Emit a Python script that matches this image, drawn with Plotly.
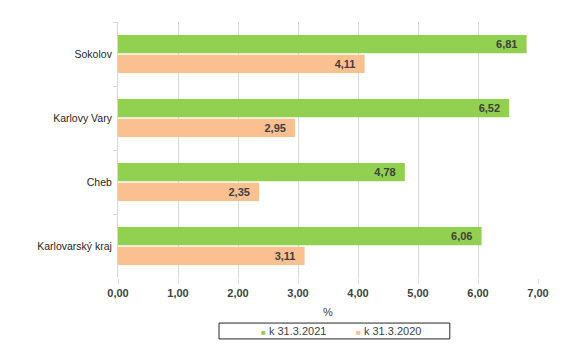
import plotly.graph_objects as go

categories = ["Sokolov", "Karlovy Vary", "Cheb", "Karlovarský kraj"]
vals_2021 = [6.81, 6.52, 4.78, 6.06]
vals_2020 = [4.11, 2.95, 2.35, 3.11]
series_names = ["k 31.3.2021", "k 31.3.2020"]
series_colors = ["#92D050", "#FAC090"]
tick_vals = [0, 1, 2, 3, 4, 5, 6, 7]

FONT = "Liberation Sans, Arial, sans-serif"

fig = go.Figure()
for vals, name, color in zip([vals_2021, vals_2020], series_names, series_colors):
    fig.add_trace(go.Bar(
        y=categories, x=vals, orientation="h", name=name,
        marker=dict(color=color, line=dict(width=0)),
        texttemplate="%{x:.2f}\u00a0\u00a0", textposition="inside",
        insidetextanchor="end", constraintext="none",
        textfont=dict(family=FONT, size=11, color="#404040", weight="bold"),
        showlegend=False,
    ))

fig.update_layout(
    width=567, height=351,
    margin=dict(l=118, r=29, t=22, b=73, autoexpand=False),
    barmode="group", bargap=0.38, bargroupgap=0.08,
    separators=", ",
    paper_bgcolor="white", plot_bgcolor="white",
    font=dict(family=FONT, size=11, color="#262626"),
    showlegend=False,
)

# custom legend box
fig.add_shape(type="rect", xref="paper", yref="paper",
              x0=0.2405, x1=0.790, y0=-0.238, y1=-0.176,
              line=dict(color="#262626", width=1), fillcolor="white")
legend_x = [0.336, 0.562]
for lx, name, color in zip(legend_x, series_names, series_colors):
    fig.add_annotation(
        xref="paper", yref="paper", x=lx, y=-0.207, xanchor="left", yanchor="middle",
        showarrow=False,
        text=f"<span style='color:{color};font-size:8px'>■</span>\u00a0{name}",
        font=dict(family=FONT, size=11, color="#404040"),
    )

fig.update_xaxes(
    range=[0, 7], tickvals=tick_vals, tickformat=".2f",
    showgrid=True, gridcolor="#d9d9d9", gridwidth=1,
    ticks="outside", ticklen=5, tickcolor="#d9d9d9",
    tickfont=dict(family=FONT, size=11, color="#404040", weight="bold"),
    title=dict(text="%", font=dict(family=FONT, size=11, color="#404040"), standoff=10),
    zeroline=False, showline=False,
)
fig.update_yaxes(
    autorange="reversed", tickson="boundaries", ticks="outside",
    ticklen=4, tickcolor="#d9d9d9",
    showline=True, linecolor="#d9d9d9", linewidth=1,
    tickfont=dict(family=FONT, size=10.5, color="#262626"),
    showgrid=False, ticklabelstandoff=3,
)

fig.write_html("out.html")
